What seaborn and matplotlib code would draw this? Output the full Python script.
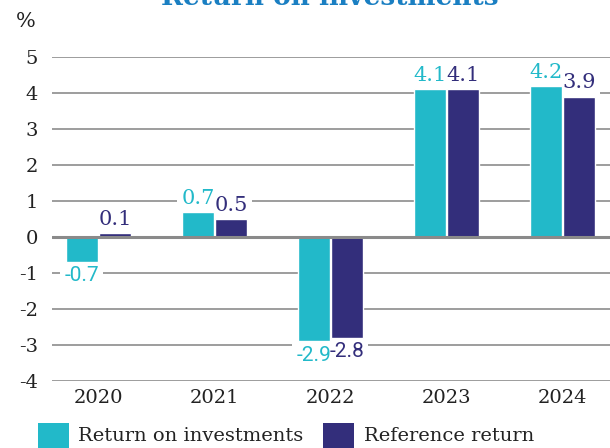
import matplotlib
matplotlib.use("Agg")
import matplotlib.pyplot as plt
import seaborn as sns
import pandas as pd

years = ["2020", "2021", "2022", "2023", "2024"]
series_names = ["Return on investments", "Reference return"]
roi = [-0.7, 0.7, -2.9, 4.1, 4.2]
ref = [0.1, 0.5, -2.8, 4.1, 3.9]
colors = ["#22b9c9", "#332e7b"]
yticks = [-4, -3, -2, -1, 0, 1, 2, 3, 4, 5]

sns.set_theme(style="white")
plt.rcParams["font.family"] = ["DejaVu Serif"]

df = pd.DataFrame({
    "year": years * 2,
    "value": roi + ref,
    "series": [series_names[0]] * len(years) + [series_names[1]] * len(years),
})

fig = plt.figure(figsize=(6.1, 4.48), dpi=100)
W, H = 610, 448
ax = fig.add_axes([52 / W, 67 / H, (4.9 * 116) / W, 324 / H])

sns.barplot(data=df, x="year", y="value", hue="series", palette=colors,
            width=0.57, gap=0.03, ax=ax, legend=False, zorder=3,
            saturation=1)

ax.set_xlim(-0.4, 4.5)
ax.set_ylim(-4, 5)
ax.set_yticks(yticks)
ax.set_yticklabels([str(t) for t in yticks], fontsize=14, color="#222222")
ax.set_xlabel("")
ax.set_ylabel("")
ax.tick_params(axis="x", labelsize=14, colors="#222222", length=0, pad=6)
ax.tick_params(axis="y", length=0, pad=10)
for s in ax.spines.values():
    s.set_visible(False)
for t in yticks:
    if t == 0:
        ax.axhline(t, color="#8a8a8a", lw=2.2, zorder=4)
    else:
        ax.axhline(t, color="#959595", lw=1.3, zorder=1)

# value labels: white knock-out boxes under bars, text on top
for ci, cont in enumerate(ax.containers):
    vals = [roi, ref][ci]
    for bar, v in zip(cont, vals):
        xc = bar.get_x() + bar.get_width() / 2
        fam = ["Roboto"] if v < 0 else ["DejaVu Serif"]
        off = (0, 3) if v >= 0 else (0, -3)
        va = "bottom" if v >= 0 else "top"
        ax.annotate(f"{v:.1f}", (xc, v), xytext=off, textcoords="offset points",
                    ha="center", va=va, fontsize=15, color="none",
                    family=fam, zorder=2,
                    bbox=dict(boxstyle="square,pad=0.2", fc="white", ec="none"))
        ax.annotate(f"{v:.1f}", (xc, v), xytext=off, textcoords="offset points",
                    ha="center", va=va, fontsize=15, color=colors[ci],
                    family=fam, zorder=6)

fig.text(16 / W, 1 - 27 / H, "%", fontsize=15, color="#222222", ha="left", va="baseline")
fig.text(330 / W, 1 - 5 / H, "Return on investments", fontsize=19, fontweight="bold",
         color="#1a7fc2", ha="center", va="baseline")

# legend
from matplotlib.patches import Patch
handles = [Patch(facecolor=c, edgecolor="none") for c in colors]
leg = fig.legend(handles, series_names, loc="lower left", bbox_to_anchor=(20 / W, -17 / H),
                 ncol=2, frameon=False, fontsize=14, handlelength=1.6, handleheight=1.6,
                 handletextpad=0.5, columnspacing=1.0)
for t in leg.get_texts():
    t.set_color("#222222")

fig.savefig("out.png", dpi=100)
